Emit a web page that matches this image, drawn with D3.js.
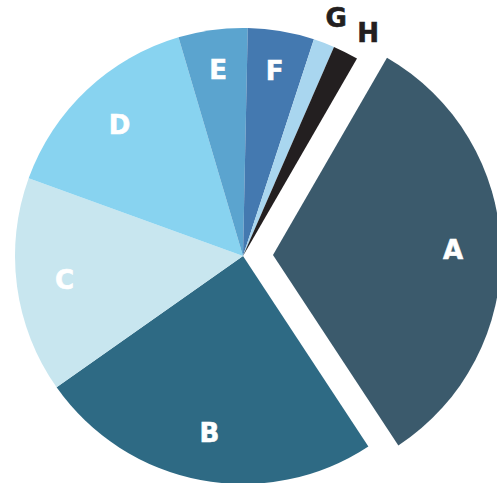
<!DOCTYPE html>
<meta charset="utf-8">
<script src="https://d3js.org/d3.v7.min.js"></script>
<style>
  body { margin: 0; background: #fff; }
</style>
<svg id="chart" width="497" height="483"></svg>
<script>
// slice data, clockwise from A
var labels = ["A", "B", "C", "D", "E", "F", "G", "H"];
var values = [32.4, 24.5, 15.3, 14.9, 4.9, 4.7, 1.5, 1.8];
var colors = ["#3B5A6C", "#2E6A84", "#C8E6EF", "#88D3F0", "#5BA4CF", "#4479B0", "#A9D6EF", "#231F20"];
var exploded = ["A"];

var svg = d3.select("#chart"),
    cx = 243, cy = 256,
    radius = 228,
    explodeBy = 30;

var deg = Math.PI / 180;
var start = 30 * deg;

var data = labels.map(function(l, i){ return {label: l, value: values[i], color: colors[i]} });

var pie = d3.pie()
    .sort(null)
    .value(function(d){ return d.value })
    .startAngle(start)
    .endAngle(start + 2 * Math.PI);

var arc = d3.arc().innerRadius(0).outerRadius(radius);

var g = svg.append("g").attr("transform", "translate(" + cx + "," + cy + ")");

function shift(d) {
  if (exploded.indexOf(d.data.label) < 0) return [0, 0];
  var a = (d.startAngle + d.endAngle) / 2;
  return [explodeBy * Math.sin(a), -explodeBy * Math.cos(a)];
}

var arcs = pie(data);

g.selectAll("path")
  .data(arcs)
  .enter()
  .append("path")
    .attr("d", arc)
    .attr("fill", function(d){ return d.data.color })
    .attr("transform", function(d){ var s = shift(d); return "translate(" + s[0] + "," + s[1] + ")" });

// tiny slices get their label outside in dark text, narrow ones a bit further out
g.selectAll("text")
  .data(arcs)
  .enter()
  .append("text")
    .attr("transform", function(d){
      var v = d.data.value;
      var a = (d.startAngle + d.endAngle) / 2;
      var r = v < 3 ? 256 : (v < 6 ? radius * 0.825 : radius * 0.79);
      if (d.data.label == "H") a += 2.5 * deg;   // keep G/H apart
      if (d.data.label == "G") a += 0.5 * deg;
      var s = shift(d);
      var x = s[0] + r * Math.sin(a), y = s[1] - r * Math.cos(a);
      return "translate(" + x + "," + y + ")";
    })
    .attr("text-anchor", "middle")
    .attr("dy", "0.36em")
    .style("font-family", "'DejaVu Sans', Arial, sans-serif")
    .style("font-weight", "bold")
    .style("font-size", "26px")
    .style("fill", function(d){ return d.data.value < 3 ? "#231F20" : "#fff" })
    .style("stroke", function(d){ return d.data.value < 3 ? "#231F20" : "#fff" })
    .style("stroke-width", 0.6)
    .text(function(d){ return d.data.label });
</script>
